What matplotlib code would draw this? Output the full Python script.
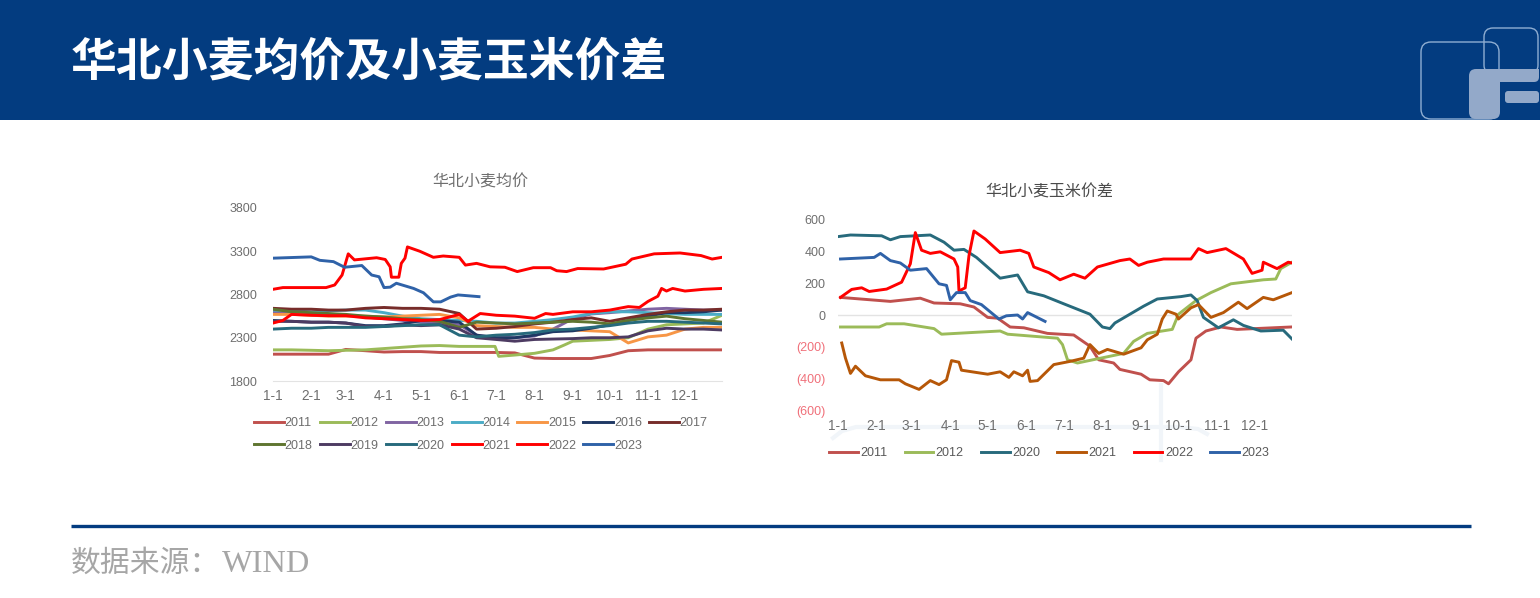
"""Wheat average price and wheat-corn spread slide."""

import matplotlib

matplotlib.use("Agg")
import matplotlib.pyplot as plt
from matplotlib.patches import FancyBboxPatch, Rectangle
from matplotlib.ticker import FuncFormatter

W, H = 1540, 598
NAVY = "#033C80"

MONTH_DAYS = [0, 31, 59, 90, 120, 151, 181, 212, 243, 273, 304, 334]
MONTH_LABELS = ["1-1", "2-1", "3-1", "4-1", "5-1", "6-1", "7-1", "8-1", "9-1", "10-1", "11-1", "12-1"]

# half-month grid shared by the flat lines in the price panel
GRID = [0, 15, 31, 45, 59, 75, 90, 105, 120, 135, 151, 165, 181, 196, 212, 227, 243, 258, 273, 288, 304, 319, 334, 349, 364]

P2011 = [2110, 2110, 2110, 2110, 2165, 2150, 2135, 2140, 2140, 2130, 2130, 2130, 2130, 2125, 2065, 2060, 2060, 2060, 2095, 2150, 2160, 2160, 2160, 2160, 2160]
P2012_DAYS = [0, 15, 31, 45, 59, 75, 90, 105, 120, 135, 151, 165, 180, 183, 196, 212, 227, 236, 243, 258, 273, 288, 304, 319, 334, 349, 364]
P2012 = [2160, 2160, 2155, 2150, 2155, 2160, 2175, 2190, 2205, 2210, 2200, 2200, 2200, 2085, 2100, 2120, 2160, 2215, 2260, 2270, 2280, 2300, 2400, 2450, 2460, 2470, 2560]
P2013 = [2600, 2590, 2580, 2570, 2560, 2540, 2520, 2500, 2480, 2470, 2450, 2330, 2300, 2300, 2320, 2400, 2520, 2575, 2590, 2610, 2630, 2640, 2630, 2620, 2620]
P2014 = [2620, 2610, 2600, 2610, 2620, 2620, 2590, 2550, 2520, 2510, 2500, 2490, 2470, 2470, 2490, 2510, 2540, 2580, 2600, 2600, 2590, 2580, 2570, 2570, 2570]
P2015 = [2570, 2570, 2560, 2550, 2550, 2550, 2540, 2550, 2560, 2570, 2530, 2440, 2430, 2420, 2420, 2400, 2390, 2380, 2370, 2240, 2310, 2330, 2400, 2420, 2420]
P2016 = [2500, 2490, 2480, 2480, 2470, 2440, 2440, 2460, 2500, 2500, 2480, 2330, 2300, 2300, 2330, 2370, 2380, 2410, 2450, 2500, 2550, 2590, 2590, 2600, 2620]
P2017 = [2640, 2630, 2630, 2620, 2620, 2640, 2650, 2640, 2640, 2630, 2580, 2400, 2410, 2430, 2460, 2480, 2510, 2530, 2490, 2530, 2570, 2600, 2620, 2620, 2630]
P2018 = [2630, 2600, 2590, 2580, 2570, 2550, 2540, 2520, 2510, 2490, 2420, 2480, 2470, 2460, 2470, 2480, 2490, 2480, 2460, 2500, 2530, 2550, 2520, 2500, 2480]
P2019 = [2490, 2490, 2480, 2480, 2470, 2430, 2430, 2450, 2440, 2450, 2400, 2300, 2280, 2260, 2280, 2285, 2290, 2300, 2300, 2310, 2380, 2410, 2400, 2400, 2390]
P2020 = [2400, 2410, 2410, 2420, 2420, 2420, 2430, 2440, 2450, 2450, 2330, 2310, 2330, 2340, 2360, 2390, 2400, 2420, 2440, 2470, 2490, 2490, 2480, 2470, 2460]
P2021_DAYS = [0, 8, 15, 31, 45, 59, 75, 90, 105, 120, 135, 151, 158, 168, 181, 196, 212, 221, 227, 243, 258, 273, 288, 297, 304, 312, 315, 319, 324, 334, 349, 364]
P2021 = [2470, 2500, 2570, 2560, 2555, 2555, 2530, 2520, 2510, 2500, 2510, 2570, 2490, 2580, 2560, 2550, 2525, 2580, 2570, 2600, 2600, 2620, 2660, 2650, 2720, 2780, 2870, 2840, 2870, 2840, 2860, 2870]
P2022_DAYS = [0, 8, 43, 50, 56, 61, 66, 84, 91, 95, 96, 102, 104, 107, 109, 119, 130, 138, 151, 156, 165, 176, 188, 198, 211, 225, 230, 238, 247, 268, 286, 291, 309, 330, 347, 356, 364]
P2022 = [2860, 2880, 2880, 2910, 3025, 3270, 3200, 3225, 3205, 3120, 3000, 3000, 3160, 3220, 3350, 3300, 3230, 3245, 3230, 3140, 3160, 3120, 3115, 3065, 3110, 3110, 3075, 3065, 3100, 3095, 3150, 3210, 3270, 3280, 3250, 3210, 3230]
P2023_DAYS = [0, 31, 38, 49, 58, 72, 80, 86, 90, 95, 100, 114, 122, 130, 136, 144, 150, 167]
P2023 = [3220, 3235, 3195, 3180, 3115, 3135, 3025, 3005, 2880, 2885, 2930, 2870, 2820, 2715, 2715, 2770, 2795, 2775]

S2011_DAYS = [2, 42, 66, 77, 98, 109, 120, 128, 138, 149, 168, 189, 202, 209, 221, 226, 243, 250, 261, 265, 273, 283, 287, 295, 307, 320, 363]
S2011 = [110, 85, 105, 75, 70, 50, -15, -20, -75, -80, -115, -125, -195, -280, -300, -340, -370, -405, -410, -430, -355, -280, -145, -100, -75, -90, -75]
S2012_DAYS = [2, 33, 39, 53, 77, 83, 106, 130, 136, 176, 180, 184, 192, 229, 237, 248, 268, 273, 287, 299, 315, 341, 351, 355, 364]
S2012 = [-75, -75, -55, -55, -85, -120, -110, -100, -120, -145, -185, -280, -300, -240, -165, -115, -90, 5, 90, 140, 195, 220, 225, 290, 330]
S2020_DAYS = [0, 10, 35, 42, 50, 74, 85, 93, 101, 111, 130, 144, 152, 165, 181, 202, 212, 218, 222, 245, 256, 275, 283, 288, 293, 305, 317, 325, 339, 357, 364]
S2020 = [490, 500, 495, 470, 490, 500, 455, 405, 410, 360, 230, 250, 145, 120, 70, 5, -75, -85, -50, 55, 100, 115, 125, 90, -15, -80, -30, -65, -100, -95, -150]
S2021_DAYS = [3, 6, 10, 14, 22, 34, 49, 54, 65, 74, 81, 87, 91, 97, 99, 120, 130, 137, 141, 148, 152, 154, 160, 173, 186, 197, 202, 209, 216, 229, 243, 248, 256, 260, 264, 271, 273, 283, 289, 299, 309, 321, 328, 341, 349, 364]
S2021 = [-175, -270, -365, -320, -380, -405, -405, -430, -465, -410, -435, -405, -285, -295, -345, -370, -355, -390, -355, -380, -345, -415, -410, -310, -290, -270, -185, -240, -215, -245, -205, -155, -120, -25, 25, 5, -25, 45, 65, -15, 15, 80, 40, 110, 95, 140]
S2022_DAYS = [2, 11, 19, 25, 39, 51, 58, 62, 67, 74, 82, 93, 96, 97, 102, 105, 109, 118, 130, 146, 153, 157, 169, 178, 189, 198, 208, 226, 234, 241, 248, 261, 283, 289, 296, 311, 325, 332, 340, 341, 352, 361, 364]
S2022 = [110, 160, 170, 147, 162, 205, 320, 515, 405, 385, 395, 350, 300, 150, 170, 370, 525, 475, 390, 405, 385, 300, 265, 220, 255, 230, 300, 340, 350, 310, 330, 350, 350, 415, 390, 415, 350, 260, 280, 330, 290, 330, 325]
S2023_DAYS = [2, 29, 34, 42, 50, 58, 71, 81, 87, 90, 95, 102, 106, 115, 129, 135, 144, 148, 152, 166]
S2023 = [350, 360, 385, 340, 325, 280, 290, 195, 185, 95, 140, 140, 90, 65, -25, -5, 0, -25, 15, -40]

COLORS = {
    "2011": "#C0504D", "2012": "#9BBB59", "2013": "#8064A2", "2014": "#4BACC6",
    "2015": "#F79646", "2016": "#1F3864", "2017": "#772C2A", "2018": "#5F7530",
    "2019": "#4D3B62", "2020": "#276A7C", "2021": "#FF0000", "2022": "#FF0000",
    "2023": "#2F62A8",
}

PRICE_SERIES = [
    ("2011", GRID, P2011), ("2012", P2012_DAYS, P2012), ("2013", GRID, P2013),
    ("2014", GRID, P2014), ("2015", GRID, P2015), ("2016", GRID, P2016),
    ("2017", GRID, P2017), ("2018", GRID, P2018), ("2019", GRID, P2019),
    ("2020", GRID, P2020), ("2021", P2021_DAYS, P2021), ("2022", P2022_DAYS, P2022),
    ("2023", P2023_DAYS, P2023),
]
SPREAD_SERIES = [
    ("2011", S2011_DAYS, S2011, "#C0504D"), ("2012", S2012_DAYS, S2012, "#9BBB59"),
    ("2020", S2020_DAYS, S2020, "#276A7C"), ("2021", S2021_DAYS, S2021, "#B65708"),
    ("2022", S2022_DAYS, S2022, "#FF0000"), ("2023", S2023_DAYS, S2023, "#2F62A8"),
]


def px_axes(fig, left, top, right, bottom):
    return fig.add_axes([left / W, 1 - bottom / H, (right - left) / W, (bottom - top) / H])


def spread_label(value, _pos):
    return f"({abs(value):.0f})" if value < 0 else f"{value:.0f}"


plt.rcParams["font.family"] = ["Liberation Sans", "Noto Sans CJK SC"]
fig = plt.figure(figsize=(W / 100, H / 100), dpi=100, facecolor="white")

# slide furniture, in pixel coordinates
bg = fig.add_axes([0, 0, 1, 1], zorder=0)
bg.set_xlim(0, W)
bg.set_ylim(H, 0)
bg.axis("off")
bg.add_patch(Rectangle((0, 0), W, 120, color=NAVY, lw=0))
logo_line = "#8FAED2"
logo_fill = "#93A9C9"
bg.add_patch(FancyBboxPatch((1421, 42), 78, 77, boxstyle="round,pad=0,rounding_size=10", fc="none", ec=logo_line, lw=1))
bg.add_patch(FancyBboxPatch((1484, 28), 54, 46, boxstyle="round,pad=0,rounding_size=9", fc="none", ec=logo_line, lw=1))
bg.add_patch(FancyBboxPatch((1469, 69), 31, 50, boxstyle="round,pad=0,rounding_size=7", fc=logo_fill, ec="none"))
bg.add_patch(FancyBboxPatch((1476, 69), 63, 13, boxstyle="round,pad=0,rounding_size=5", fc=logo_fill, ec="none"))
bg.add_patch(Rectangle((1476, 69), 63, 7, fc=logo_fill, lw=0))
bg.add_patch(FancyBboxPatch((1505, 91), 34, 12, boxstyle="round,pad=0,rounding_size=3", fc=logo_fill, ec="none"))
bg.text(71, 63, "华北小麦均价及小麦玉米价差", color="white", fontsize=33, fontweight="bold",
        family="Noto Sans CJK SC", va="center", ha="left")
bg.plot([71, 1471], [525.5, 525.5], color=NAVY, lw=2.4, solid_capstyle="butt")
bg.text(71, 572, "数据来源：", color="#A6A6A6", fontsize=21.5,
        family="Noto Sans CJK SC", va="baseline", ha="left")
bg.text(222, 572, "WIND", color="#A6A6A6", fontsize=23.4,
        family="Liberation Serif", va="baseline", ha="left")

# pale watermark behind the right panel
mark = "#F1F5F9"
bg.plot([833, 842, 856, 1180, 1198, 1207], [438, 431, 427, 427, 429, 434], color=mark, lw=3)
bg.plot([1161, 1161], [385, 460], color=mark, lw=3)

# price panel
ax1 = px_axes(fig, 273, 208, 722, 381)
handles = []
for name, days, values in PRICE_SERIES:
    handles += ax1.plot(days, values, color=COLORS[name], lw=2.1, label=name)
ax1.set_xlim(0, 364)
ax1.set_ylim(1800, 3800)
ax1.set_yticks([1800, 2300, 2800, 3300, 3800])
ax1.set_title("华北小麦均价", fontsize=11.5, color="#6E6E6E", x=(480 - 273) / 449, y=1.103, va="center")
# matplotlib fills legend columns first, so pair the rows by hand
row_order = [handles[i] for pair in zip(range(6), range(7, 13)) for i in pair] + [handles[6]]
ax1.legend(
    handles=row_order, ncol=7, frameon=False, fontsize=9, labelcolor="#6E6E6E",
    loc="upper left", bbox_to_anchor=(254 / W, 1 - 417 / H), bbox_transform=fig.transFigure,
    borderpad=0, borderaxespad=0, handlelength=2.4, handletextpad=0.05, columnspacing=0.58, labelspacing=0.85,
)

# spread panel
ax2 = px_axes(fig, 838, 219, 1292, 411)
spread_handles = []
for name, days, values, color in SPREAD_SERIES:
    spread_handles += ax2.plot(days, values, color=color, lw=2.1, label=name)
ax2.axhline(0, color="#E3E3E3", lw=1, zorder=0)
ax2.set_xlim(0, 364)
ax2.set_ylim(-600, 600)
ax2.set_yticks([-600, -400, -200, 0, 200, 400, 600])
ax2.yaxis.set_major_formatter(FuncFormatter(spread_label))
ax2.set_title("华北小麦玉米价差", fontsize=11.5, color="#4A4A4A", x=(1049 - 838) / 454, y=1.098, va="center")
ax2.legend(
    handles=spread_handles, ncol=6, frameon=False, fontsize=9, labelcolor="#595959",
    loc="upper left", bbox_to_anchor=(829 / W, 1 - 447 / H), bbox_transform=fig.transFigure,
    borderpad=0, borderaxespad=0, handlelength=2.3, handletextpad=0.2, columnspacing=1.37,
)

for ax, ypad in ((ax1, 11.5), (ax2, 9)):
    ax.patch.set_alpha(0)
    for side in ("top", "right", "left"):
        ax.spines[side].set_visible(False)
    ax.spines["bottom"].set_color("#E3E3E3")
    ax.set_xticks(MONTH_DAYS, MONTH_LABELS)
    ax.tick_params(axis="both", length=0, labelsize=9, labelcolor="#6E6E6E")
    ax.tick_params(axis="x", pad=5.5, labelsize=9.8)
    ax.tick_params(axis="y", pad=ypad)
ax2.spines["bottom"].set_visible(False)
for label in ax2.get_yticklabels():
    if label.get_position()[1] < 0:
        label.set_color("#F0707A")

fig.savefig("out.png", dpi=100, facecolor="white")
